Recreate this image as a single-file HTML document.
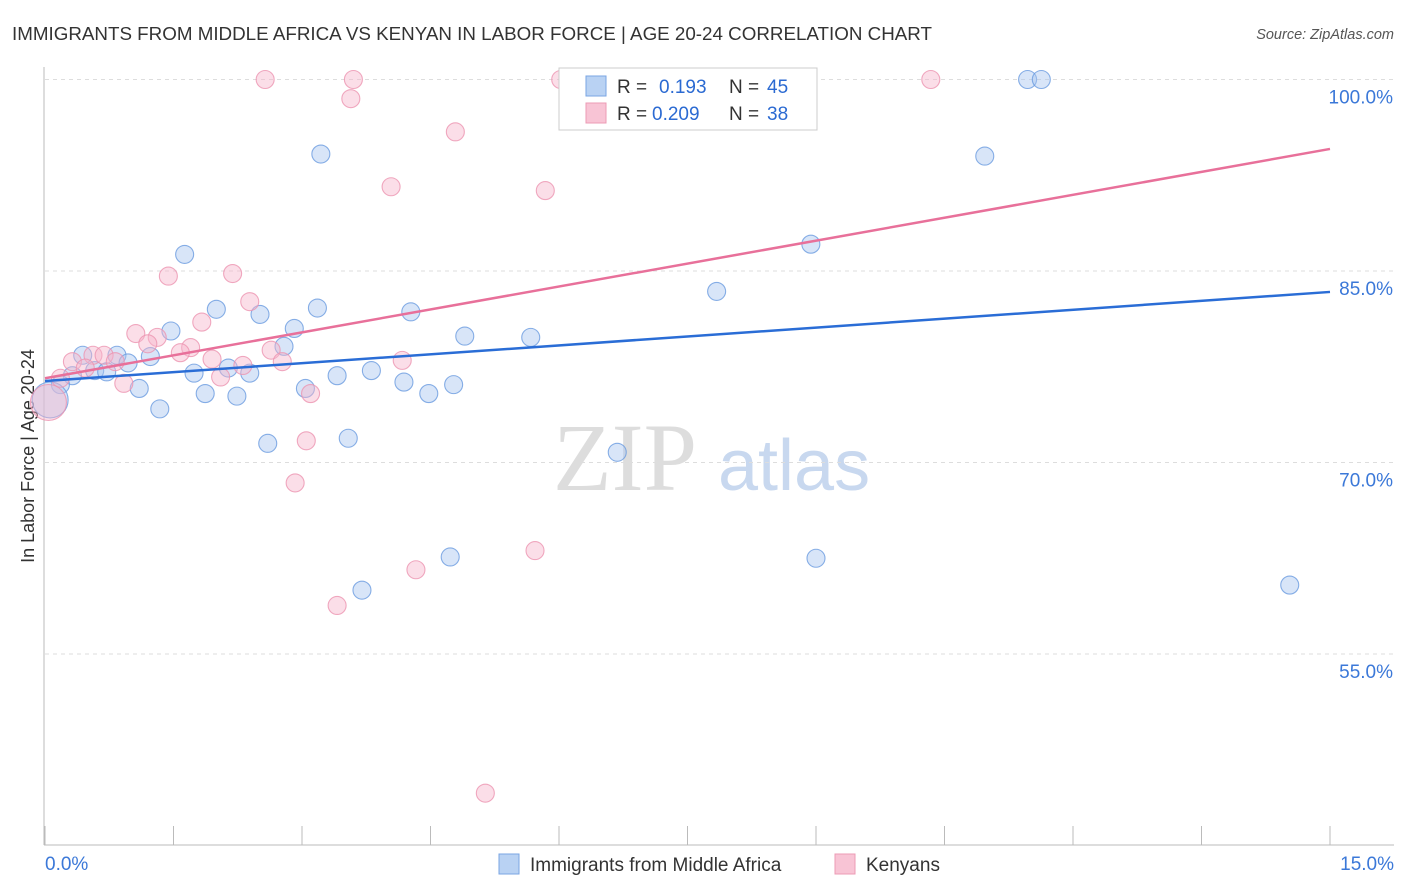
<!DOCTYPE html>
<html><head><meta charset="utf-8"><style>
body{margin:0;background:#fff;font-family:"Liberation Sans",sans-serif;}
svg{display:block}
</style></head><body>
<svg id="chart" width="1406" height="892">
<text x="12" y="40" font-size="18.8" fill="#333" textLength="920">IMMIGRANTS FROM MIDDLE AFRICA VS KENYAN IN LABOR FORCE | AGE 20-24 CORRELATION CHART</text>
<text x="1394" y="39" font-size="14.5" fill="#555" font-style="italic" text-anchor="end">Source: ZipAtlas.com</text>
<text x="0" y="0" transform="translate(34,456) rotate(-90)" font-size="18" fill="#333" text-anchor="middle">In Labor Force | Age 20-24</text>
<text x="553" y="490" font-size="96" fill="#ddd" font-family="Liberation Serif,serif">ZIP</text>
<text x="718" y="490" font-size="72" fill="#c8d8ef">atlas</text>
<g id="grid"></g><g id="pts"></g><g id="lines"></g>
<g>
<rect x="559" y="68" width="258" height="62" fill="#fff" stroke="#ccc"/>
<rect x="586" y="76" width="20" height="20" fill="#b9d2f3" stroke="#7aa5e3"/>
<rect x="586" y="103" width="20" height="20" fill="#f8c4d5" stroke="#ec9bb5"/>
<text x="617" y="93" font-size="19" fill="#333">R = <tspan x="659" fill="#2b6ad2">0.193</tspan><tspan x="729">N =</tspan><tspan x="767" fill="#2b6ad2">45</tspan></text>
<text x="617" y="120" font-size="19" fill="#333">R = <tspan x="652" fill="#2b6ad2">0.209</tspan><tspan x="729">N =</tspan><tspan x="767" fill="#2b6ad2">38</tspan></text>
</g>
<g>
<rect x="499" y="854" width="20" height="20" fill="#b9d2f3" stroke="#7aa5e3"/>
<text x="530" y="871" font-size="19" fill="#333">Immigrants from Middle Africa</text>
<rect x="835" y="854" width="20" height="20" fill="#f8c4d5" stroke="#ec9bb5"/>
<text x="866" y="871" font-size="19" fill="#333">Kenyans</text>
</g>
</svg>
<script>
const yTicks=[55,70,85,100];
const xTickLabels=["0.0%","15.0%"];
const blueX=[11.47,11.63,3.22,10.97,8.94,1.63,7.84,2.0,3.18,4.27,2.51,1.47,2.91,4.90,5.67,2.79,0.44,0.84,1.23,0.97,0.58,0.72,0.32,2.14,1.74,2.39,3.81,3.41,4.19,4.77,0.18,1.10,3.04,1.87,2.24,4.48,1.34,0.06,2.60,3.54,6.68,4.73,9.0,3.70,14.53];
const blueY=[100,100,94.16,94.0,87.1,86.3,83.4,82.0,82.1,81.8,81.6,80.3,80.5,79.9,79.8,79.1,78.4,78.4,78.3,77.8,77.2,77.1,76.8,77.4,77.0,77.0,77.2,76.8,76.3,76.1,76.1,75.8,75.8,75.4,75.2,75.4,74.2,74.9,71.5,71.9,70.8,62.6,62.5,60.0,60.4];
const pinkX=[2.57,3.60,6.02,10.34,3.57,4.79,4.04,5.84,1.44,2.19,2.39,1.83,1.06,1.31,1.20,1.70,2.64,1.58,0.56,0.69,1.95,4.17,0.32,0.82,2.77,2.31,0.47,0.18,2.05,0.92,3.10,0.04,3.05,2.92,4.33,5.72,3.41,5.14];
const pinkY=[100,100,100,100,98.5,95.9,91.6,91.3,84.6,84.8,82.6,81.0,80.1,79.8,79.3,79.0,78.8,78.6,78.4,78.4,78.1,78.0,77.9,77.9,77.9,77.6,77.4,76.6,76.7,76.2,75.4,74.7,71.7,68.4,61.6,63.1,58.8,44.1];
const blueLine=[76.38,83.36];
const pinkLine=[76.6,94.56];
const X=v=>45+v/15*1285, Y=v=>79.5+(100-v)/15*191.5;
const NS="http://www.w3.org/2000/svg";
function mk(tag,attrs,parent){const e=document.createElementNS(NS,tag);for(const k in attrs)e.setAttribute(k,attrs[k]);parent.appendChild(e);return e;}
const grid=document.getElementById('grid');
yTicks.forEach(t=>{
 const l=mk('line',{x1:45,x2:1394,y1:Y(t),y2:Y(t),stroke:'#ddd','stroke-dasharray':'4 4'},grid);
 
 
 const tx=mk('text',{x:1393,y:Y(t)+24,'font-size':19,fill:'#3b78d8','text-anchor':'end'},grid);
 tx.textContent=t.toFixed(1)+'%';
 
 
});
const ax=mk('line',{x1:44,x2:44,y1:67,y2:845,stroke:'#bbb'},grid);


const bx=mk('line',{x1:44,x2:1394,y1:845,y2:845,stroke:'#bbb'},grid);


for(let i=0;i<=10;i++){const tk=mk('line',{x1:X(i*1.5),x2:X(i*1.5),y1:826,y2:845,stroke:'#bbb'},grid);
 
 }
const xl0=mk('text',{x:45,y:870,'font-size':19,fill:'#3b78d8'},grid);xl0.textContent=xTickLabels[0];


const xl1=mk('text',{x:1394,y:870,'font-size':19,fill:'#3b78d8','text-anchor':'end'},grid);xl1.textContent=xTickLabels[1];


const pts=document.getElementById('pts');
function drawPts(xs,ys,fill,stroke,name,bigIdx){
 xs.forEach((v,i)=>{const c=mk('circle',{cx:X(v),cy:Y(ys[i]),r:i===bigIdx?18:9,fill:fill,'fill-opacity':0.45,stroke:stroke,'stroke-opacity':0.8,'stroke-width':1.1},pts);
 
 });
}
drawPts(blueX,blueY,'#a9c6ef','#6a9be0','point-middle-africa',37);
drawPts(pinkX,pinkY,'#f6b6cb','#ec94b0','point-kenyan',31);
const lines=document.getElementById('lines');
const bl=mk('line',{x1:X(0),y1:Y(blueLine[0]),x2:X(15),y2:Y(blueLine[1]),stroke:'#2a6dd6','stroke-width':2.5},lines);


const pl=mk('line',{x1:X(0),y1:Y(pinkLine[0]),x2:X(15),y2:Y(pinkLine[1]),stroke:'#e8709a','stroke-width':2.5},lines);


</script>
</body></html>
